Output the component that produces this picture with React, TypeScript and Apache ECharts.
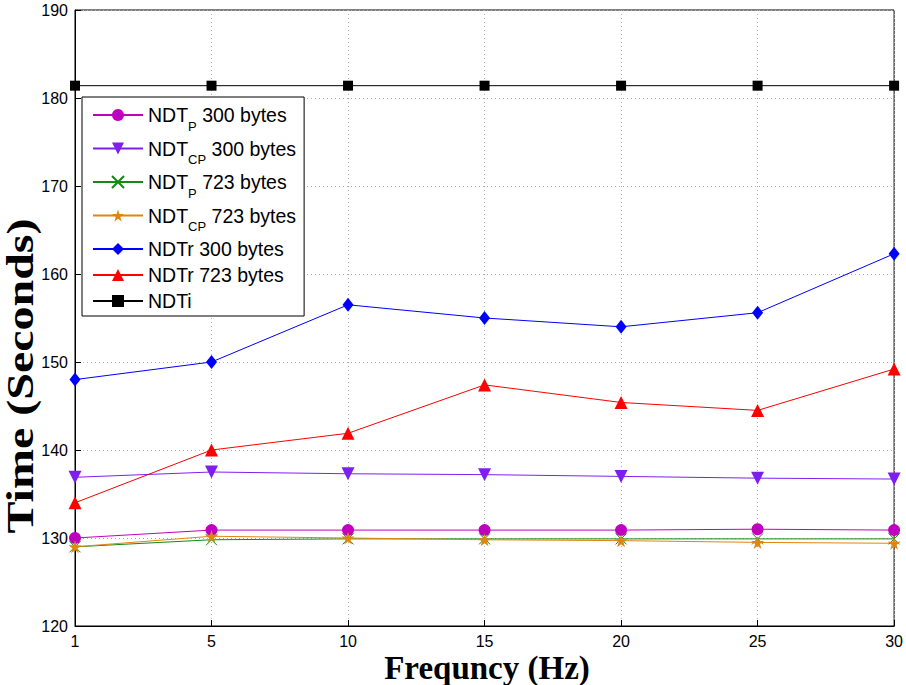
import React, { useEffect, useRef } from "react";
import * as echarts from "echarts";

const categories = ["1", "5", "10", "15", "20", "25", "30"];
const ndtP300 = [130.0, 130.9, 130.9, 130.9, 130.9, 131.0, 130.9];
const ndtCP300 = [136.9, 137.5, 137.3, 137.2, 137.0, 136.8, 136.7];
const ndtP723 = [129.0, 129.8, 129.9, 129.9, 129.9, 129.9, 129.9];
const ndtCP723 = [129.0, 130.2, 130.0, 129.8, 129.7, 129.5, 129.4];
const ndtr300 = [148.0, 150.0, 156.5, 155.0, 154.0, 155.6, 162.3];
const ndtr723 = [134.0, 140.0, 141.9, 147.4, 145.4, 144.5, 149.2];
const ndti = [181.4, 181.4, 181.4, 181.4, 181.4, 181.4, 181.4];

const names = ["NDTP300", "NDTCP300", "NDTP723", "NDTCP723", "NDTr 300 bytes", "NDTr 723 bytes", "NDTi"];
const legendLabels: Record<string, string> = {
  NDTP300: "{a|NDT}{s|P}{a| 300 bytes}",
  NDTCP300: "{a|NDT}{s|CP}{a| 300 bytes}",
  NDTP723: "{a|NDT}{s|P}{a| 723 bytes}",
  NDTCP723: "{a|NDT}{s|CP}{a| 723 bytes}",
  "NDTr 300 bytes": "{a|NDTr 300 bytes}",
  "NDTr 723 bytes": "{a|NDTr 723 bytes}",
  NDTi: "{a|NDTi}",
};

const STAR = "path://M50,0 L61,35 L98,35 L68,57 L79,91 L50,70 L21,91 L32,57 L2,35 L39,35 Z";
const XMARK = "path://M0,0L10,10M10,0L0,10";
const SANS = "'Liberation Sans', Arial, sans-serif";

export default function App() {
  const ref = useRef<HTMLDivElement>(null);
  useEffect(() => {
    document.body.style.margin = "0";
    const chart = echarts.init(ref.current!, null, { renderer: "svg" });
    const mk = (name: string, data: number[], color: string, symbol: string, size: any, extra: any = {}) => ({
      name,
      type: "line",
      data,
      symbol,
      symbolSize: size,
      lineStyle: { color, width: 1 },
      itemStyle: { color },
      ...extra,
    });
    chart.setOption({
      animation: false,
      textStyle: { fontFamily: SANS },
      grid: { left: 75, right: 9, top: 10, bottom: 59, show: true, borderColor: "#000", borderWidth: 1 },
      xAxis: {
        type: "category",
        data: categories,
        boundaryGap: false,
        axisLine: { lineStyle: { color: "#000", width: 1 } },
        axisTick: { inside: true, length: 6, lineStyle: { color: "#000" } },
        axisLabel: { color: "#000", fontSize: 16, margin: 7 },
        splitLine: { show: true, lineStyle: { color: "#b0b0b0", type: [1, 3], width: 1 } },
      },
      yAxis: {
        type: "value",
        min: 120,
        max: 190,
        interval: 10,
        axisLine: { show: true, lineStyle: { color: "#000", width: 1 } },
        axisTick: { show: true, inside: true, length: 6, lineStyle: { color: "#000" } },
        axisLabel: { color: "#000", fontSize: 16, margin: 7 },
        splitLine: { show: true, lineStyle: { color: "#b0b0b0", type: [1, 3], width: 1 } },
      },
      legend: {
        orient: "vertical",
        left: 82,
        top: 97,
        padding: [8, 8, 5, 10],
        itemGap: 6,
        itemWidth: 50,
        itemHeight: 15,
        backgroundColor: "#fff",
        borderColor: "#000",
        borderWidth: 1,
        borderRadius: 0,
        data: names,
        formatter: (n: string) => legendLabels[n],
        textStyle: {
          color: "#000",
          fontSize: 19.5,
          rich: {
            a: { fontSize: 19.5, color: "#000", fontFamily: SANS },
            s: { fontSize: 13, color: "#000", padding: [22, 0, 0, 0], fontFamily: SANS },
          },
        },
      },
      graphic: [
        {
          type: "text",
          x: 20,
          y: 376,
          rotation: Math.PI / 2,
          scaleY: 0.8,
          style: {
            text: "Time (Seconds)",
            font: "bold 48px 'Liberation Serif', 'Times New Roman', serif",
            textAlign: "center",
            textVerticalAlign: "middle",
            fill: "#000",
          },
        },
        {
          type: "text",
          x: 487,
          y: 668,
          style: {
            text: "Frequncy (Hz)",
            font: "bold 33px 'Liberation Serif', 'Times New Roman', serif",
            textAlign: "center",
            textVerticalAlign: "middle",
            fill: "#000",
          },
        },
      ],
      series: [
        mk(names[0], ndtP300, "#c000c0", "circle", 12),
        mk(names[1], ndtCP300, "#7f1fef", "triangle", 13, { symbolRotate: 180 }),
        mk(names[2], ndtP723, "#138a13", XMARK, 11, {
          itemStyle: { color: "transparent", borderColor: "#138a13", borderWidth: 1 },
        }),
        mk(names[3], ndtCP723, "#e0850f", STAR, 13),
        mk(names[4], ndtr300, "#0000ff", "diamond", [11, 14]),
        mk(names[5], ndtr723, "#ff0000", "triangle", 13),
        mk(names[6], ndti, "#000000", "rect", 10),
      ],
    });
    return () => chart.dispose();
  }, []);
  return <div ref={ref} style={{ width: 906, height: 685 }} />;
}
